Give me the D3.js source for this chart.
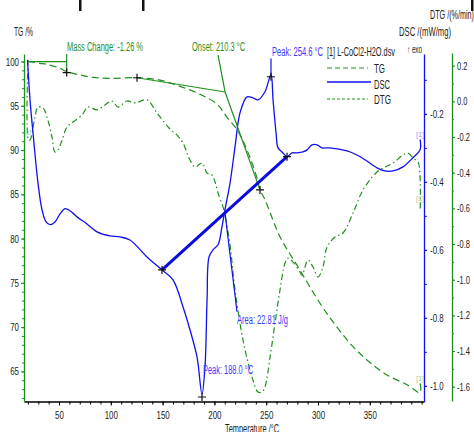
<!DOCTYPE html>
<html>
<head>
<meta charset="utf-8">
<script src="https://cdn.jsdelivr.net/npm/d3@7/dist/d3.min.js"></script>
<style>
body { margin: 0; background: #fff; }
text { font-family: "Liberation Sans", Arial, sans-serif; }
</style>
</head>
<body>
<div id="chart"></div>
<script>
// TG curve (temperature /°C, mass /%)
var tgTemp = [20.1, 31.7, 41.3, 51.0, 57.7, 70.3, 82.8, 99.2, 125.3, 147.5, 166.8, 186.1, 202.5, 212.2, 221.8, 231.5, 241.1, 244.0, 248.8, 263.3, 279.7, 301.9, 318.3, 333.8, 350.2, 366.6, 385.9, 398.5, 398.6];
var tgMass = [100.0, 99.8, 99.6, 99.23, 98.85, 98.48, 98.2, 98.1, 98.17, 97.9, 97.2, 96.3, 95.2, 93.7, 92.3, 90.0, 86.85, 85.5, 84.4, 80.2, 77.0, 72.7, 70.0, 67.8, 66.0, 64.6, 63.5, 62.6, 63.7];

// DSC curve (temperature /°C, mW/mg)
var dscTemp = [19.6, 22.0, 24.9, 29.7, 33.6, 37.5, 41.3, 46.1, 51.0, 55.8, 60.6, 67.4, 77.0, 86.7, 99.2, 108.9, 118.5, 134.9, 149.4, 160.0, 169.7, 176.4, 183.2, 188.0, 190.9, 192.9, 194.8, 198.6, 203.5, 207.3, 210.2, 215.1, 219.9, 224.7, 231.5, 237.3, 242.1, 248.8, 254.6, 256.6, 259.5, 261.4, 265.3, 270.1, 274.9, 279.7, 285.5, 289.4, 294.2, 299.0, 303.9, 311.6, 328.0, 337.6, 345.4, 356.9, 364.7, 372.4, 382.0, 391.7, 398.5, 398.6];
var dscFlow = [-0.041, -0.159, -0.256, -0.403, -0.482, -0.518, -0.526, -0.518, -0.494, -0.479, -0.485, -0.503, -0.524, -0.547, -0.559, -0.562, -0.571, -0.621, -0.659, -0.688, -0.768, -0.835, -0.915, -1.024, -0.944, -0.747, -0.621, -0.600, -0.585, -0.532, -0.482, -0.403, -0.297, -0.197, -0.150, -0.153, -0.159, -0.135, -0.085, -0.159, -0.256, -0.300, -0.312, -0.326, -0.315, -0.315, -0.312, -0.306, -0.291, -0.291, -0.300, -0.300, -0.309, -0.321, -0.335, -0.359, -0.368, -0.368, -0.356, -0.329, -0.306, -0.276];

// DTG curve (temperature /°C, %/min)
var dtgTemp = [20.1, 20.6, 22.0, 26.8, 29.7, 34.6, 38.4, 43.2, 46.1, 49.0, 52.9, 57.7, 63.5, 72.2, 78.0, 86.7, 94.4, 101.2, 107.0, 115.6, 123.4, 134.9, 144.6, 157.1, 163.9, 169.7, 176.4, 181.3, 188.0, 192.9, 197.7, 200.6, 203.5, 208.3, 210.2, 215.1, 219.9, 227.6, 236.3, 242.1, 245.9, 248.8, 253.7, 258.5, 263.3, 268.1, 271.0, 275.9, 282.6, 284.6, 290.3, 295.2, 300.0, 304.8, 308.7, 316.4, 324.1, 333.8, 343.4, 356.9, 362.7, 372.4, 382.0, 386.9, 391.7, 396.5, 398.5, 398.6];
var dtgRate = [0.232, -0.217, -0.217, -0.088, -0.032, -0.037, -0.088, -0.200, -0.284, -0.273, -0.217, -0.144, -0.116, -0.076, -0.032, -0.048, -0.020, 0.002, -0.032, 0.002, -0.009, 0.008, -0.065, -0.155, -0.189, -0.234, -0.329, -0.368, -0.346, -0.402, -0.413, -0.452, -0.514, -0.592, -0.637, -0.806, -1.058, -1.338, -1.546, -1.630, -1.630, -1.602, -1.434, -1.243, -1.058, -0.907, -0.879, -0.901, -0.957, -0.975, -0.890, -0.929, -0.985, -0.929, -0.817, -0.761, -0.738, -0.626, -0.497, -0.396, -0.374, -0.346, -0.301, -0.290, -0.318, -0.340, -0.424, -0.610];

// ticks
var tempTicks = [50, 100, 150, 200, 250, 300, 350];
var tempMinor = d3.range(20, 401, 10);
var tgTicks = [65, 70, 75, 80, 85, 90, 95, 100];
var tgMinor = d3.range(62, 101, 1);
var dscTicks = [-1.0, -0.8, -0.6, -0.4, -0.2];
var dscMinor = [-1.0, -0.9, -0.8, -0.7, -0.6, -0.5, -0.4, -0.3, -0.2, -0.1];
var dtgTicks = [-1.6, -1.4, -1.2, -1.0, -0.8, -0.6, -0.4, -0.2, 0.0, 0.2];
var dtgMinor = [-1.6, -1.5, -1.4, -1.3, -1.2, -1.1, -1.0, -0.9, -0.8, -0.7, -0.6, -0.5, -0.4, -0.3, -0.2, -0.1, 0.0, 0.1, 0.2];

// evaluation points
var tgMarks = [[57.4, 98.75], [125.3, 98.17], [244.0, 85.5]];
var onsetPoint = [210.3, 96.56];
var dscBase = [[149.4, -0.659], [270.1, -0.326]];
var dscPeaks = [[188.0, -1.024], [254.6, -0.085]];

var green = "#1f8f1f", blue = "#1010f0", labelBlue = "#3a3aff";
var W = 474, H = 432;
var plotL = 24, plotR = 424, plotT = 54, plotB = 401.5;

var svg = d3.select("#chart").append("svg")
    .attr("width", W).attr("height", H);

var x = d3.scaleLinear().domain([16.2, 402.3]).range([plotL, plotR]);
var yTG = d3.scaleLinear().domain([61.6, 100.85]).range([plotB, plotT]);
var yDSC = d3.scaleLinear().domain([-1.046, -0.024]).range([plotB, plotT]);
var yDTG = d3.scaleLinear().domain([-1.68, 0.271]).range([401, 53]);

var fmt = function(d) { return d.toFixed(1); };

// squeeze text to a narrow face
function narrow(sel, k) {
    sel.each(function() {
        var l = this.getComputedTextLength();
        d3.select(this).attr("textLength", l * k).attr("lengthAdjust", "spacingAndGlyphs");
    });
}

function label(px, py, str, w, color, size, anchor) {
    return svg.append("text")
        .attr("x", px).attr("y", py)
        .attr("font-size", size || 12)
        .attr("fill", color)
        .attr("text-anchor", anchor || "start")
        .attr("textLength", w)
        .attr("lengthAdjust", "spacingAndGlyphs")
        .text(str);
}

function styleAxis(g, color, k) {
    g.select(".domain").attr("stroke", color).attr("stroke-width", 1.3);
    g.selectAll(".tick line").attr("stroke", color);
    g.selectAll("text").attr("fill", "#222").attr("font-size", 11);
    narrow(g.selectAll("text"), k || 0.72);
}

// x axis
var gx = svg.append("g").attr("transform", "translate(0," + plotB + ")")
    .call(d3.axisBottom(x).tickValues(tempMinor).tickSize(3).tickFormat("").tickSizeOuter(0));
styleAxis(gx, "#000");
var gx2 = svg.append("g").attr("transform", "translate(0," + plotB + ")")
    .call(d3.axisBottom(x).tickValues(tempTicks).tickSize(4).tickPadding(6).tickSizeOuter(0));
gx2.select(".domain").remove();
styleAxis(gx2, "#000");

// TG axis
var gy = svg.append("g").attr("transform", "translate(" + plotL + ",0)")
    .call(d3.axisLeft(yTG).tickValues(tgMinor).tickSize(2).tickFormat("").tickSizeOuter(0));
styleAxis(gy, green);
var gy2 = svg.append("g").attr("transform", "translate(" + plotL + ",0)")
    .call(d3.axisLeft(yTG).tickValues(tgTicks).tickSize(3).tickPadding(2).tickSizeOuter(0));
gy2.select(".domain").remove();
styleAxis(gy2, green);

// DSC axis
var gd = svg.append("g").attr("transform", "translate(" + plotR + ",0)")
    .call(d3.axisRight(yDSC).tickValues(dscMinor).tickSize(3).tickFormat("").tickSizeOuter(0));
styleAxis(gd, blue);
var gd2 = svg.append("g").attr("transform", "translate(" + plotR + ",0)")
    .call(d3.axisRight(yDSC).tickValues(dscTicks).tickSize(3).tickPadding(3).tickFormat(fmt).tickSizeOuter(0));
gd2.select(".domain").remove();
styleAxis(gd2, blue);

// DTG axis
var gt = svg.append("g").attr("transform", "translate(452,0)")
    .call(d3.axisRight(yDTG).tickValues(dtgMinor).tickSize(2).tickFormat("").tickSizeOuter(0));
styleAxis(gt, green);
var gt2 = svg.append("g").attr("transform", "translate(452,0)")
    .call(d3.axisRight(yDTG).tickValues(dtgTicks).tickSize(3).tickPadding(2).tickFormat(fmt).tickSizeOuter(0));
gt2.select(".domain").remove();
styleAxis(gt2, green, 0.68);

// curves
var tgLine = d3.line().x(function(d, i) { return x(tgTemp[i]); }).y(function(d) { return yTG(d); })
    .curve(d3.curveCatmullRom.alpha(0.5));
var dscLine = d3.line().x(function(d, i) { return x(dscTemp[i]); }).y(function(d) { return yDSC(d); })
    .curve(d3.curveCatmullRom.alpha(0.5));
var dtgLine = d3.line().x(function(d, i) { return x(dtgTemp[i]); }).y(function(d) { return yDTG(d); })
    .curve(d3.curveCatmullRom.alpha(0.5));

svg.append("path").datum(dtgRate).attr("d", dtgLine)
    .attr("fill", "none").attr("stroke", green).attr("stroke-width", 1.2)
    .attr("stroke-dasharray", "6,3,1.5,3");
svg.append("path").datum(tgMass).attr("d", tgLine)
    .attr("fill", "none").attr("stroke", green).attr("stroke-width", 1.2)
    .attr("stroke-dasharray", "7,4");
svg.append("path").datum(dscFlow).attr("d", dscLine)
    .attr("fill", "none").attr("stroke", blue).attr("stroke-width", 1.3);

// TG evaluation: mass change bracket and onset tangents
function seg(p, q, sy, color, w) {
    svg.append("line")
        .attr("x1", x(p[0])).attr("y1", sy(p[1]))
        .attr("x2", x(q[0])).attr("y2", sy(q[1]))
        .attr("stroke", color).attr("stroke-width", w || 1);
}
seg([tgTemp[0], 100], [tgMarks[0][0], 100], yTG, green, 1.2);
seg([tgMarks[0][0], 100.85], tgMarks[0], yTG, green, 1.2);
seg(tgMarks[1], onsetPoint, yTG, green, 1.2);
seg(onsetPoint, tgMarks[2], yTG, green, 1.2);
seg([203.5, 100.73], onsetPoint, yTG, green, 1.2);

// DSC evaluation: baseline, area and peak leaders
seg(dscBase[0], dscBase[1], yDSC, "#0a0ae0", 3);
var tCross = 210.2;
var dCross = dscBase[0][1] + (tCross - dscBase[0][0]) / (dscBase[1][0] - dscBase[0][0]) * (dscBase[1][1] - dscBase[0][1]);
seg([tCross, dCross], [221.8, -0.782], yDSC, blue, 1.2);
seg(dscPeaks[1], [254.6, -0.037], yDSC, blue, 1.2);

// "+" markers
function cross(px, py) {
    svg.append("path").attr("d", "M" + (px - 4) + "," + py + "h8M" + px + "," + (py - 4) + "v8")
        .attr("stroke", "#111").attr("stroke-width", 1.2);
}
tgMarks.forEach(function(p) { cross(x(p[0]), yTG(p[1])); });
dscBase.forEach(function(p) { cross(x(p[0]), yDSC(p[1])); });
cross(x(dscPeaks[0][0]), yDSC(dscPeaks[0][1]) + 3);
cross(x(dscPeaks[1][0]), yDSC(dscPeaks[1][1]) + 2);

// annotations
label(67, 51, "Mass Change: -1.26 %", 76, green);
label(192, 51, "Onset: 210.3 °C", 53, green);
label(272, 56, "Peak: 254.6 °C", 51, labelBlue);
label(203, 374, "Peak: 188.0 °C", 50, labelBlue);
label(237, 324, "Area: 22.81 J/g", 51, labelBlue);

// axis titles
label(14, 36, "TG /%", 19, "#222");
label(399, 36, "DSC /(mW/mg)", 52, "#222");
label(407, 53, "↑ exo", 15, "#222", 10);
label(430, 19, "DTG /(%/min)", 44, "#222");
label(252, 433, "Temperature /°C", 54, "#222", 12, "middle");

// legend
label(327, 56, "[1] L-CoCl2-H2O.dsv", 68, "#222");
svg.append("line").attr("x1", 327).attr("x2", 368).attr("y1", 68).attr("y2", 68)
    .attr("stroke", green).attr("stroke-width", 1.2).attr("stroke-dasharray", "5,3");
svg.append("line").attr("x1", 327).attr("x2", 371).attr("y1", 82).attr("y2", 82)
    .attr("stroke", blue).attr("stroke-width", 1.3);
svg.append("line").attr("x1", 327).attr("x2", 368).attr("y1", 99).attr("y2", 99)
    .attr("stroke", green).attr("stroke-width", 1.2).attr("stroke-dasharray", "3,2");
label(374, 73, "TG", 11, "#222");
label(374, 89, "DSC", 16, "#222");
label(374, 104, "DTG", 17, "#222");

// curve-end tags
label(416, 137, "[1]", 8, "#9a9aff", 8);
label(416, 201, "[1]", 8, "#8fcf8f", 8);
label(416, 381, "[1]", 8, "#8fcf8f", 8);
label(25, 135, "[1]", 6, "#8fcf8f", 8);

// cropped marks along the top edge
[80, 143, 472].forEach(function(px) {
    svg.append("rect").attr("x", px - 1).attr("y", 0).attr("width", 2.5).attr("height", 11).attr("fill", "#111");
});
</script>
</body>
</html>
